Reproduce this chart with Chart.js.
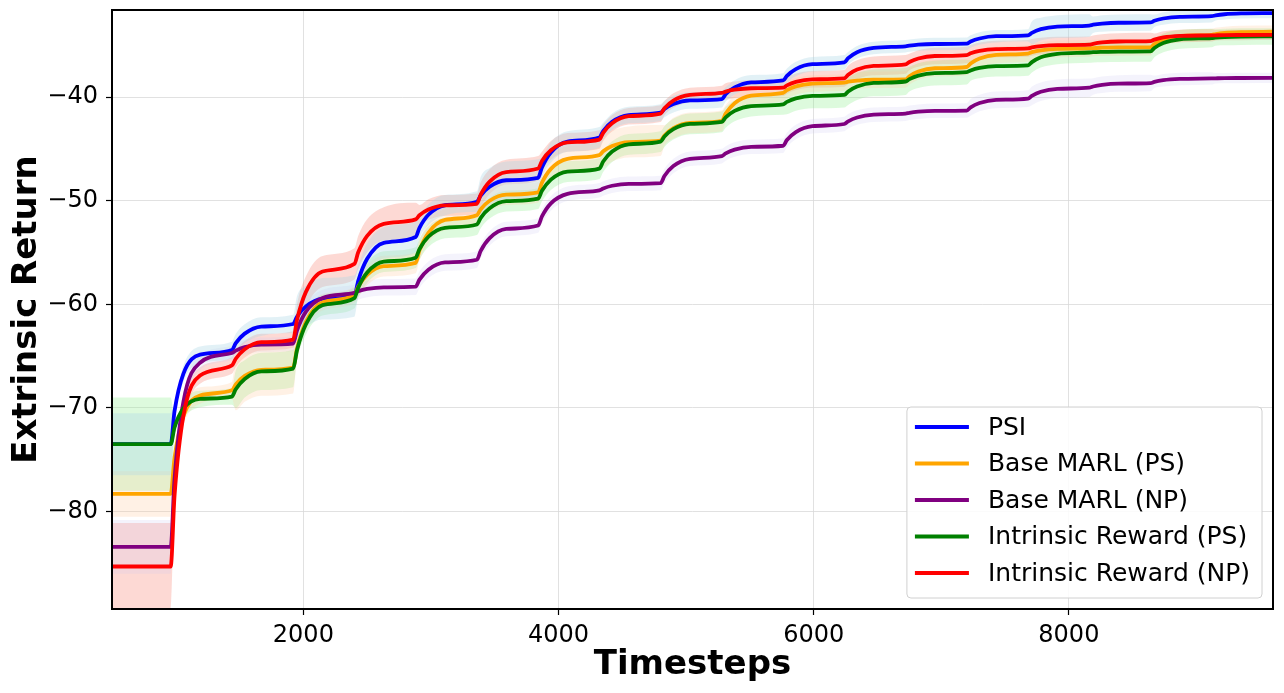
<!DOCTYPE html>
<html>
<head>
<meta charset="utf-8">
<script src="https://cdn.jsdelivr.net/npm/chart.js@4.4.1/dist/chart.umd.min.js"></script>
<style>
  html, body { margin: 0; padding: 0; background: #fff; }
</style>
</head>
<body>
<canvas id="chart" width="1284" height="693"></canvas>
<script>
// x positions: start, then for every evaluation step t: t, t+30, t+100, t+230, and the end
const timesteps = [500,
  960, 990, 1060, 1190,   1440, 1470, 1540, 1670,   1920, 1950, 2020, 2150,
  2400, 2430, 2500, 2630, 2880, 2910, 2980, 3110,   3360, 3390, 3460, 3590,
  3840, 3870, 3940, 4070, 4320, 4350, 4420, 4550,   4800, 4830, 4900, 5030,
  5280, 5310, 5380, 5510, 5760, 5790, 5860, 5990,   6240, 6270, 6340, 6470,
  6720, 6750, 6820, 6950, 7200, 7230, 7300, 7430,   7680, 7710, 7780, 7910,
  8160, 8190, 8260, 8390, 8640, 8670, 8740, 8870,   9120, 9150, 9220, 9350,
  9600]

const psi = [-73.5,
  -73.5, -70.32, -66.68, -64.86,   -64.4, -63.75, -62.83, -62.15,   -61.9, -61.2, -60.2, -59.47,
  -59.2, -57.72, -55.61, -54.07,   -53.5, -52.62, -51.36, -50.44,   -50.1, -49.5, -48.65, -48.03,
  -47.8, -46.79, -45.34, -44.29,   -43.9, -43.28, -42.39, -41.74,   -41.5, -41.16, -40.68, -40.33,
  -40.2, -39.73, -39.07, -38.58,   -38.4, -37.95, -37.3, -36.83,    -36.65, -36.25, -35.67, -35.26,
  -35.1, -35.04, -34.94, -34.88,   -34.85, -34.64, -34.35, -34.13,  -34.05, -33.8, -33.45, -33.2,
  -33.1, -33.02, -32.91, -32.83,   -32.8, -32.64, -32.42, -32.26,   -32.2, -32.12, -32.01, -31.93,
  -31.9]

const baseMarlPS = [-78.3,
  -78.3, -74.8, -70.8, -68.8,      -68.3, -67.73, -66.91, -66.32,   -66.1, -64.28, -61.69, -59.8,
  -59.1, -58.29, -57.15, -56.31,   -56.0, -54.8, -53.1, -51.86,     -51.4, -50.83, -50.01, -49.42,
  -49.2, -48.26, -46.93, -45.96,   -45.6, -45.24, -44.72, -44.34,   -44.2, -43.71, -43.0, -42.49,
  -42.3, -41.6, -40.6, -39.87,     -39.6, -39.34, -38.97, -38.7,    -38.6, -38.52, -38.41, -38.33,
  -38.3, -37.99, -37.54, -37.22,   -37.1, -36.76, -36.28, -35.93,   -35.8, -35.67, -35.49, -35.35,
  -35.3, -35.27, -35.24, -35.21,   -35.2, -34.89, -34.44, -34.12,   -34.0, -33.92, -33.81, -33.73,
  -33.7]

const baseMarlNP = [-83.4,
  -83.4, -76.86, -69.38, -65.64,   -64.7, -64.47, -64.13, -63.89,   -63.8, -62.53, -60.71, -59.39,
  -58.9, -58.74, -58.52, -58.36,   -58.3, -57.62, -56.66, -55.96,   -55.7, -54.84, -53.62, -52.73,
  -52.4, -51.52, -50.26, -49.34,   -49.0, -48.82, -48.56, -48.37,   -48.3, -47.62, -46.66, -45.96,
  -45.7, -45.44, -45.07, -44.8,    -44.7, -44.15, -43.38, -42.81,   -42.6, -42.34, -41.97, -41.7,
  -41.6, -41.52, -41.41, -41.33,   -41.3, -41.0, -40.58, -40.27,    -40.15, -39.88, -39.49, -39.21,
  -39.1, -38.98, -38.82, -38.7,    -38.65, -38.53, -38.37, -38.25,  -38.2, -38.19, -38.17, -38.16,
  -38.15]

const intrinsicPS = [-73.5,
  -73.5, -71.89, -70.05, -69.13,   -68.9, -68.2, -67.2, -66.47,     -66.2, -64.43, -61.92, -60.08,
  -59.4, -58.39, -56.94, -55.89,   -55.5, -54.67, -53.48, -52.62,   -52.3, -51.65, -50.73, -50.05,
  -49.8, -49.05, -47.97, -47.19,   -46.9, -46.22, -45.26, -44.56,   -44.3, -43.81, -43.1, -42.59,
  -42.4, -41.96, -41.33, -40.87,   -40.7, -40.47, -40.13, -39.89,   -39.8, -39.46, -38.98, -38.63,
  -38.5, -38.27, -37.93, -37.69,   -37.6, -37.43, -37.19, -37.02,   -36.95, -36.63, -36.16, -35.83,
  -35.7, -35.67, -35.64, -35.61,   -35.6, -35.26, -34.78, -34.43,   -34.3, -34.26, -34.21, -34.17,
  -34.15]

const intrinsicNP = [-85.3,
  -85.3, -78.51, -70.75, -66.87,   -65.9, -65.25, -64.33, -63.65,   -63.4, -61.5, -58.8, -56.83,
  -56.1, -54.98, -53.39, -52.23,   -51.8, -51.41, -50.86, -50.45,   -50.3, -49.42, -48.16, -47.24,
  -46.9, -46.17, -45.14, -44.38,   -44.1, -43.45, -42.53, -41.85,   -41.6, -41.08, -40.34, -39.8,
  -39.6, -39.47, -39.29, -39.15,   -39.1, -38.87, -38.53, -38.29,   -38.2, -37.85, -37.35, -36.99,
  -36.85, -36.62, -36.28, -36.04,  -35.95, -35.78, -35.54, -35.37,  -35.3, -35.21, -35.08, -34.99,
  -34.95, -34.86, -34.73, -34.64,  -34.6, -34.46, -34.25, -34.1,    -34.05, -34.04, -34.02, -34.01,
  -34.0]

// half width of the shaded band, one value per evaluation segment (19 segments)
const psiSpread         = [3.0, 0.8, 0.9, 2.0, 1.5, 1.0, 1.8, 1.0, 0.8, 0.8, 0.7, 0.7, 0.6, 0.6, 0.6, 1.1, 0.8, 0.6, 0.5]
const baseMarlPSSpread  = [2.2, 0.8, 2.5, 0.8, 1.0, 1.0, 1.0, 1.2, 1.5, 1.0, 0.8, 0.8, 0.8, 0.8, 0.8, 0.8, 0.8, 0.6, 0.6]
const baseMarlNPSpread  = [2.6, 0.7, 0.7, 0.8, 0.8, 0.8, 0.7, 0.7, 0.7, 0.7, 0.7, 0.7, 0.7, 0.7, 0.8, 0.9, 0.8, 0.6, 0.5]
const intrinsicPSSpread = [4.5, 0.8, 1.8, 1.0, 1.0, 1.0, 1.0, 1.0, 1.0, 1.0, 1.0, 1.2, 1.3, 1.2, 1.0, 1.0, 1.0, 0.9, 0.8]
const intrinsicNPSpread = [4.2, 0.8, 0.8, 1.5, 1.6, 1.0, 1.2, 0.9, 0.8, 0.7, 0.8, 0.8, 0.9, 0.8, 0.8, 0.8, 0.8, 0.6, 0.5]

const labels = ["PSI", "Base MARL (PS)", "Base MARL (NP)", "Intrinsic Reward (PS)", "Intrinsic Reward (NP)"]
const xTicks = [2000, 4000, 6000, 8000]
const yTicks = [-80, -70, -60, -50, -40]

const series = [
  { label: labels[0], values: psi, spread: psiSpread, color: "#0000ff", band: "rgba(173, 216, 230, 0.35)" },
  { label: labels[1], values: baseMarlPS, spread: baseMarlPSSpread, color: "#ffa500", band: "rgba(255, 200, 150, 0.25)" },
  { label: labels[2], values: baseMarlNP, spread: baseMarlNPSpread, color: "#800080", band: "rgba(200, 195, 240, 0.2)" },
  { label: labels[3], values: intrinsicPS, spread: intrinsicPSSpread, color: "#008000", band: "rgba(144, 238, 144, 0.3)" },
  { label: labels[4], values: intrinsicNP, spread: intrinsicNPSpread, color: "#ff0000", band: "rgba(250, 128, 114, 0.3)" },
]

// which segment a point belongs to (4 points per step)
function segOf(i) {
  if (i === 0) return 0
  if (i === timesteps.length - 1) return psiSpread.length - 1
  let k = Math.floor((i - 1) / 4) + 1
  return (i - 1) % 4 === 0 ? k - 1 : k
}

let datasets = []

// lines, last one in legend drawn on top
series.forEach((s, j) => {
  datasets.push({
    label: s.label,
    data: timesteps.map((t, i) => ({ x: t, y: s.values[i] })),
    borderColor: s.color,
    borderWidth: 3.8,
    pointRadius: 0,
    fill: false,
    cubicInterpolationMode: "monotone",
    order: series.length - j,
  })
})

// bands
series.forEach((s) => {
  datasets.push({
    label: "",
    data: timesteps.map((t, i) => ({ x: t, y: s.values[i] + s.spread[segOf(i)] })),
    borderWidth: 0,
    pointRadius: 0,
    backgroundColor: s.band,
    fill: "+1",
    cubicInterpolationMode: "monotone",
    order: 10,
  })
  datasets.push({
    label: "",
    data: timesteps.map((t, i) => ({ x: t, y: s.values[i] - s.spread[segOf(i)] })),
    borderWidth: 0,
    pointRadius: 0,
    fill: false,
    cubicInterpolationMode: "monotone",
    order: 10,
  })
})

const frameAndLegend = {
  id: "frameAndLegend",
  afterDraw(chart) {
    const { ctx, chartArea: a } = chart
    ctx.save()
    ctx.strokeStyle = "#000"
    ctx.lineWidth = 2
    ctx.strokeRect(a.left, a.top, a.right - a.left, a.bottom - a.top)

    // legend box, lower right
    ctx.font = "25px 'DejaVu Sans'"
    let maxW = 0
    series.forEach(s => { maxW = Math.max(maxW, ctx.measureText(s.label).width) })
    const w = 10 + 54 + 19 + maxW + 10
    const h = 191
    const x0 = a.right - 11 - w
    const y0 = a.bottom - 11 - h
    ctx.beginPath()
    ctx.roundRect(x0, y0, w, h, 4)
    ctx.fillStyle = "rgba(255,255,255,0.85)"
    ctx.fill()
    ctx.strokeStyle = "#d0d0d0"
    ctx.lineWidth = 1
    ctx.stroke()

    ctx.textBaseline = "middle"
    series.forEach((s, i) => {
      const yy = y0 + 20 + i * 36.5
      ctx.beginPath()
      ctx.moveTo(x0 + 8, yy)
      ctx.lineTo(x0 + 62, yy)
      ctx.strokeStyle = s.color
      ctx.lineWidth = 3.8
      ctx.stroke()
      ctx.fillStyle = "#000"
      ctx.fillText(s.label, x0 + 81, yy + 1)
    })
    ctx.restore()
  }
}

const minusFmt = v => (v < 0 ? "\u2212" + Math.abs(v) : String(v))

new Chart(document.getElementById("chart"), {
  type: "line",
  data: { datasets: datasets },
  options: {
    responsive: false,
    animation: false,
    layout: { padding: { left: 0, right: 11, top: 10, bottom: 0 } },
    plugins: {
      legend: { display: false },
      tooltip: { enabled: false },
      filler: { propagate: false },
    },
    scales: {
      x: {
        type: "linear",
        min: 500,
        max: 9600,
        afterBuildTicks: (scale) => { scale.ticks = xTicks.map(v => ({ value: v })) },
        afterFit: (scale) => {
          scale.height = 84
          scale.paddingLeft = 0
          scale.paddingRight = 0
        },
        ticks: {
          callback: v => String(v),
          color: "#000",
          font: { family: "DejaVu Sans", size: 24 },
          padding: 6,
          maxRotation: 0,
        },
        grid: { color: "#d9d9d9", lineWidth: 0.8, tickColor: "#000", tickLength: 6, tickWidth: 1.2 },
        border: { display: false },
        title: {
          display: true,
          text: "Timesteps",
          color: "#000",
          font: { family: "DejaVu Sans", size: 34, weight: "bold" },
          padding: { top: 7, bottom: 7 },
        },
      },
      y: {
        type: "linear",
        min: -89.4,
        max: -31.6,
        afterBuildTicks: (scale) => { scale.ticks = yTicks.map(v => ({ value: v })) },
        afterFit: (scale) => {
          scale.width = 112
          scale.paddingTop = 0
          scale.paddingBottom = 0
        },
        ticks: {
          callback: minusFmt,
          color: "#000",
          font: { family: "DejaVu Sans", size: 24 },
          padding: 8,
        },
        grid: { color: "#d9d9d9", lineWidth: 0.8, tickColor: "#000", tickLength: 6, tickWidth: 1.2 },
        border: { display: false },
        title: {
          display: true,
          text: "Extrinsic Return",
          color: "#000",
          font: { family: "DejaVu Sans", size: 34, weight: "bold" },
          padding: { top: 7, bottom: 7 },
        },
      },
    },
  },
  plugins: [frameAndLegend],
})
</script>
</body>
</html>
